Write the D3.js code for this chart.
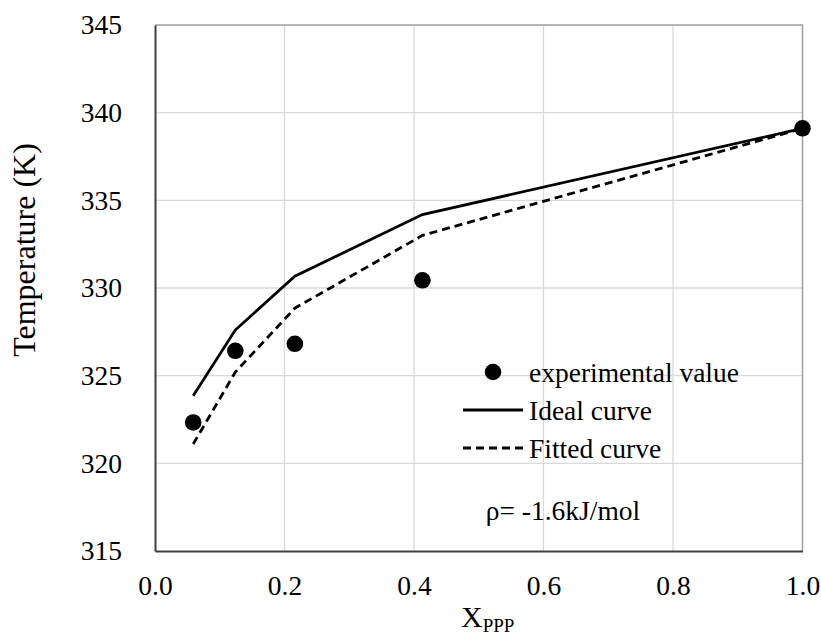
<!DOCTYPE html>
<html>
<head>
<meta charset="utf-8">
<script src="https://cdn.jsdelivr.net/npm/d3@7"></script>
<style>
  body { margin: 0; background: #fff; }
  svg text { font-family: "Liberation Serif", "Times New Roman", serif; fill: #000; }
</style>
</head>
<body>
<div id="chart"></div>
<script>
// composition X_PPP
const xValues = [0.059, 0.124, 0.216, 0.413, 1.0];
// temperatures (K)
const experimental = [322.33, 326.42, 326.82, 330.44, 339.11];
const idealCurve = [323.85, 327.6, 330.67, 334.19, 339.1];
const fittedCurve = [321.1, 325.2, 328.85, 333.0, 339.1];

const xTicks = [0.0, 0.2, 0.4, 0.6, 0.8, 1.0];
const yTicks = [315, 320, 325, 330, 335, 340, 345];

const legendLabels = ["experimental value", "Ideal curve", "Fitted curve"];
const noteText = "ρ= -1.6kJ/mol";

const W = 821, H = 638;
const margin = { top: 25, right: 18.5, bottom: 87, left: 155 };
const width = W - margin.left - margin.right,
      height = H - margin.top - margin.bottom;
const serif = "'Liberation Serif', 'Times New Roman', serif";
const fs = 27.5;

const svg = d3.select("#chart")
    .append("svg")
    .attr("width", W)
    .attr("height", H);

const g = svg.append("g")
    .attr("transform", `translate(${margin.left},${margin.top})`);

const x = d3.scaleLinear().domain([0, 1]).range([0, width]);
const y = d3.scaleLinear().domain([315, 345]).range([height, 0]);

// gridlines
g.append("g")
    .selectAll("line")
    .data(xTicks.slice(1, -1))
    .enter()
    .append("line")
    .attr("x1", d => x(d)).attr("x2", d => x(d))
    .attr("y1", 0).attr("y2", height)
    .attr("stroke", "#d9d9d9").attr("stroke-width", 1.3);

g.append("g")
    .selectAll("line")
    .data(yTicks.slice(1, -1))
    .enter()
    .append("line")
    .attr("x1", 0).attr("x2", width)
    .attr("y1", d => y(d)).attr("y2", d => y(d))
    .attr("stroke", "#d9d9d9").attr("stroke-width", 1.3);

// top and right border
g.append("path")
    .attr("d", `M0,${y(345)}H${x(1)}V${height}`)
    .attr("fill", "none")
    .attr("stroke", "#a0a0a0")
    .attr("stroke-width", 1.5);

// axes
const xAxis = g.append("g")
    .attr("transform", `translate(0,${height})`)
    .call(d3.axisBottom(x).tickValues(xTicks).tickFormat(d3.format(".1f")).tickSize(0).tickPadding(24.5));
const yAxis = g.append("g")
    .call(d3.axisLeft(y).tickValues(yTicks).tickFormat(d3.format("d")).tickSize(0).tickPadding(33));

[xAxis, yAxis].forEach(a => {
    a.attr("font-family", serif).attr("font-size", fs);
    a.select(".domain").attr("stroke", "#404040").attr("stroke-width", 2);
    a.selectAll("text").attr("font-family", serif).attr("font-size", fs).attr("fill", "#000");
});

// lines
const line = vals => d3.line()
    .x((d, i) => x(xValues[i]))
    .y(d => y(d))(vals);

g.append("path")
    .attr("d", line(idealCurve))
    .attr("fill", "none")
    .attr("stroke", "#000")
    .attr("stroke-width", 2.8);

g.append("path")
    .attr("d", line(fittedCurve))
    .attr("fill", "none")
    .attr("stroke", "#000")
    .attr("stroke-width", 2.8)
    .attr("stroke-dasharray", "8,5");

// experimental points
g.selectAll("circle.pt")
    .data(experimental)
    .enter()
    .append("circle")
    .attr("class", "pt")
    .attr("cx", (d, i) => x(xValues[i]))
    .attr("cy", d => y(d))
    .attr("r", 8.3)
    .attr("fill", "#000");

// legend
const lg = svg.append("g").attr("transform", "translate(463,372)");
const rowH = 38;
lg.append("circle").attr("cx", 30).attr("cy", 0).attr("r", 8.3).attr("fill", "#000");
lg.append("line").attr("x1", 0).attr("x2", 60).attr("y1", rowH).attr("y2", rowH)
    .attr("stroke", "#000").attr("stroke-width", 2.8);
lg.append("line").attr("x1", 0).attr("x2", 60).attr("y1", rowH * 2).attr("y2", rowH * 2)
    .attr("stroke", "#000").attr("stroke-width", 2.8).attr("stroke-dasharray", "8,5");
lg.selectAll("text")
    .data(legendLabels)
    .enter()
    .append("text")
    .attr("x", 66)
    .attr("y", (d, i) => i * rowH)
    .attr("dy", "0.35em")
    .style("font-size", fs + "px")
    .text(d => d);

svg.append("text")
    .attr("x", 563)
    .attr("y", 510)
    .attr("dy", "0.35em")
    .attr("text-anchor", "middle")
    .style("font-size", fs + "px")
    .text(noteText);

// axis titles
svg.append("text")
    .attr("transform", "translate(35,250) rotate(-90)")
    .attr("text-anchor", "middle")
    .style("font-size", "32px")
    .text("Temperature (K)");

const xt = svg.append("text")
    .attr("x", 461)
    .attr("y", 627)
    .style("font-size", "30px");
xt.append("tspan").text("X");
xt.append("tspan").attr("dy", 5).style("font-size", "19px").text("PPP");
</script>
</body>
</html>
